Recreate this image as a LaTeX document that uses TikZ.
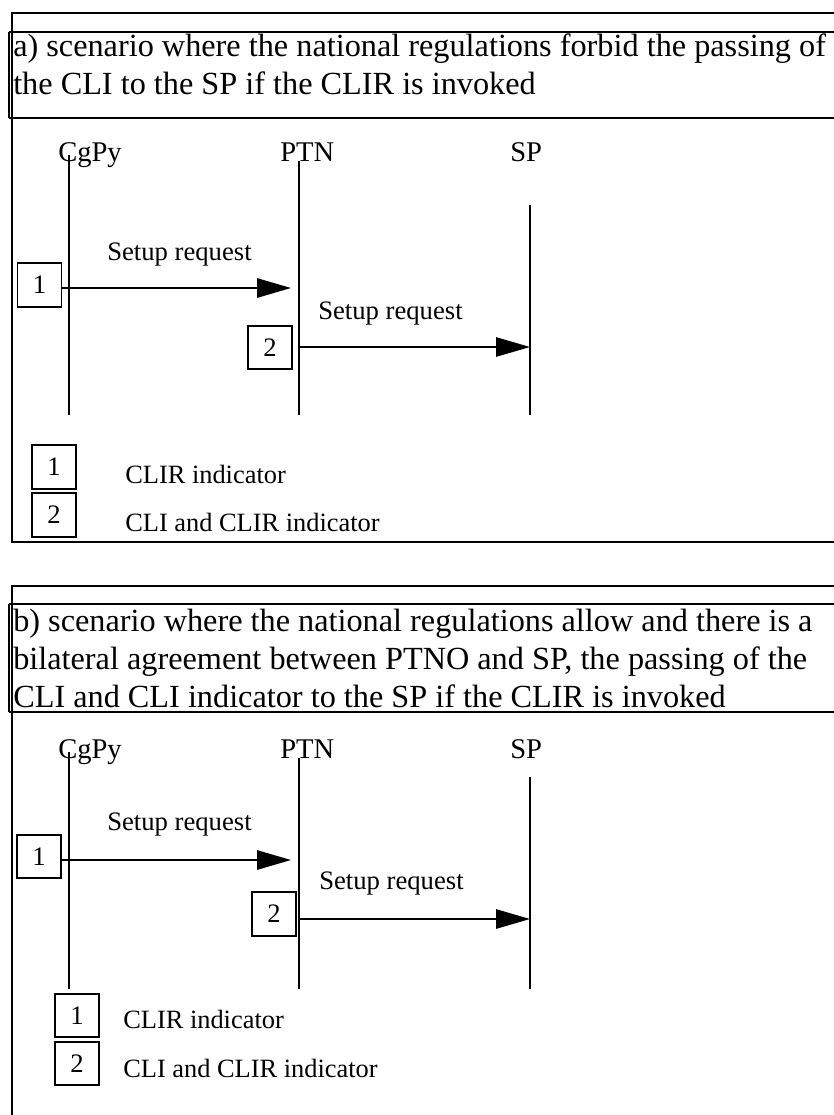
\documentclass[tikz,border=0pt]{standalone}
\usepackage{fontspec}
\setmainfont{Liberation Serif}
\usetikzlibrary{arrows.meta}
\begin{document}
\begin{tikzpicture}[x=0.75pt,y=-0.75pt,
  frame/.style={line width=1.5pt},
  life/.style={line width=1.4pt},
  msg/.style={line width=1.4pt,-{Triangle[length=25.5pt,width=14.5pt]}},
  numbox/.style={draw,line width=1.3pt,minimum width=33pt,minimum height=32.5pt,inner sep=0pt,font=\fontsize{20}{24}\selectfont},
  title/.style={anchor=base west,inner sep=0pt,font=\fontsize{24.2}{29}\selectfont},
  party/.style={anchor=base west,inner sep=0pt,font=\fontsize{21.4}{25}\selectfont},
  msglabel/.style={anchor=base west,inner sep=0pt,font=\fontsize{20}{24}\selectfont},
  legend/.style={anchor=base west,inner sep=0pt,font=\fontsize{19.8}{24}\selectfont}]
\useasboundingbox (0,0) rectangle (834,1115);

% ---------------- scenario a ----------------
% table frame
\draw[frame] (11,13) -- (834,13);
\draw[frame] (9,32) -- (834,32);
\draw[frame] (9,118) -- (834,118);
\draw[frame] (9,32) -- (9,118);
\draw[frame] (11.5,13) -- (11.5,542) -- (834,542);

\node[title] (tA1) at (13,56) {a) scenario where the national regulations forbid the passing of};
\node[title] (tA2) at (13,94) {the CLI to the SP if the CLIR is invoked};

% parties
\node[party] (cgA) at (58,161) {CgPy};
\node[party] (ptA) at (280,161) {PTN};
\node[party] (spA) at (510,161) {SP};

% lifelines
\coordinate (cgA1) at (69,155);  \coordinate (cgA2) at (69,415);
\coordinate (ptA1) at (299,161); \coordinate (ptA2) at (299,415);
\coordinate (spA1) at (530,205); \coordinate (spA2) at (530,415);
\draw[life] (cgA1) -- (cgA2);
\draw[life] (ptA1) -- (ptA2);
\draw[life] (spA1) -- (spA2);

% messages
\node[msglabel] (lA1) at (107,260) {Setup request};
\node[numbox] (bA1) at (39.5,285) {1};
\coordinate (mA1) at (291,288);
\draw[msg] (bA1.east |- mA1) -- (mA1);

\node[msglabel] (lA2) at (318,319) {Setup request};
\node[numbox] (bA2) at (270,347.5) {2};
\coordinate (mA2s) at (299,347); \coordinate (mA2e) at (530,347);
\draw[msg] (mA2s) -- (mA2e);

% legend
\node[numbox] (kA1) at (54,467) {1};
\node[numbox] (kA2) at (54,515) {2};
\node[legend] (kA1t) at (125,483) {CLIR indicator};
\node[legend] (kA2t) at (125,531) {CLI and CLIR indicator};

% ---------------- scenario b ----------------
\draw[frame] (11,586) -- (834,586);
\draw[frame] (9,604) -- (834,604);
\draw[frame] (9,712) -- (834,712);
\draw[frame] (9,604) -- (9,712);
\draw[frame] (11.5,586) -- (11.5,1115);

\node[title] (tB1) at (13,631) {b) scenario where the national regulations allow and there is a};
\node[title] (tB2) at (13,669) {bilateral agreement between PTNO and SP, the passing of the};
\node[title] (tB3) at (13,707) {CLI and CLI indicator to the SP if the CLIR is invoked};

\node[party] (cgB) at (58,758) {CgPy};
\node[party] (ptB) at (280,758) {PTN};
\node[party] (spB) at (510,758) {SP};

\coordinate (cgB1) at (69,752);  \coordinate (cgB2) at (69,989);
\coordinate (ptB1) at (299,758); \coordinate (ptB2) at (299,989);
\coordinate (spB1) at (530,777); \coordinate (spB2) at (530,989);
\draw[life] (cgB1) -- (cgB2);
\draw[life] (ptB1) -- (ptB2);
\draw[life] (spB1) -- (spB2);

\node[msglabel] (lB1) at (107,830) {Setup request};
\node[numbox] (bB1) at (39,856.5) {1};
\coordinate (mB1) at (291,860);
\draw[msg] (bB1.east |- mB1) -- (mB1);

\node[msglabel] (lB2) at (319,889) {Setup request};
\node[numbox] (bB2) at (274,914) {2};
\coordinate (mB2s) at (299,919); \coordinate (mB2e) at (530,919);
\draw[msg] (mB2s) -- (mB2e);

\node[numbox] (kB1) at (77,1015.5) {1};
\node[numbox] (kB2) at (77,1063.5) {2};
\node[legend] (kB1t) at (123,1028) {CLIR indicator};
\node[legend] (kB2t) at (123,1077) {CLI and CLIR indicator};
\end{tikzpicture}
\end{document}
